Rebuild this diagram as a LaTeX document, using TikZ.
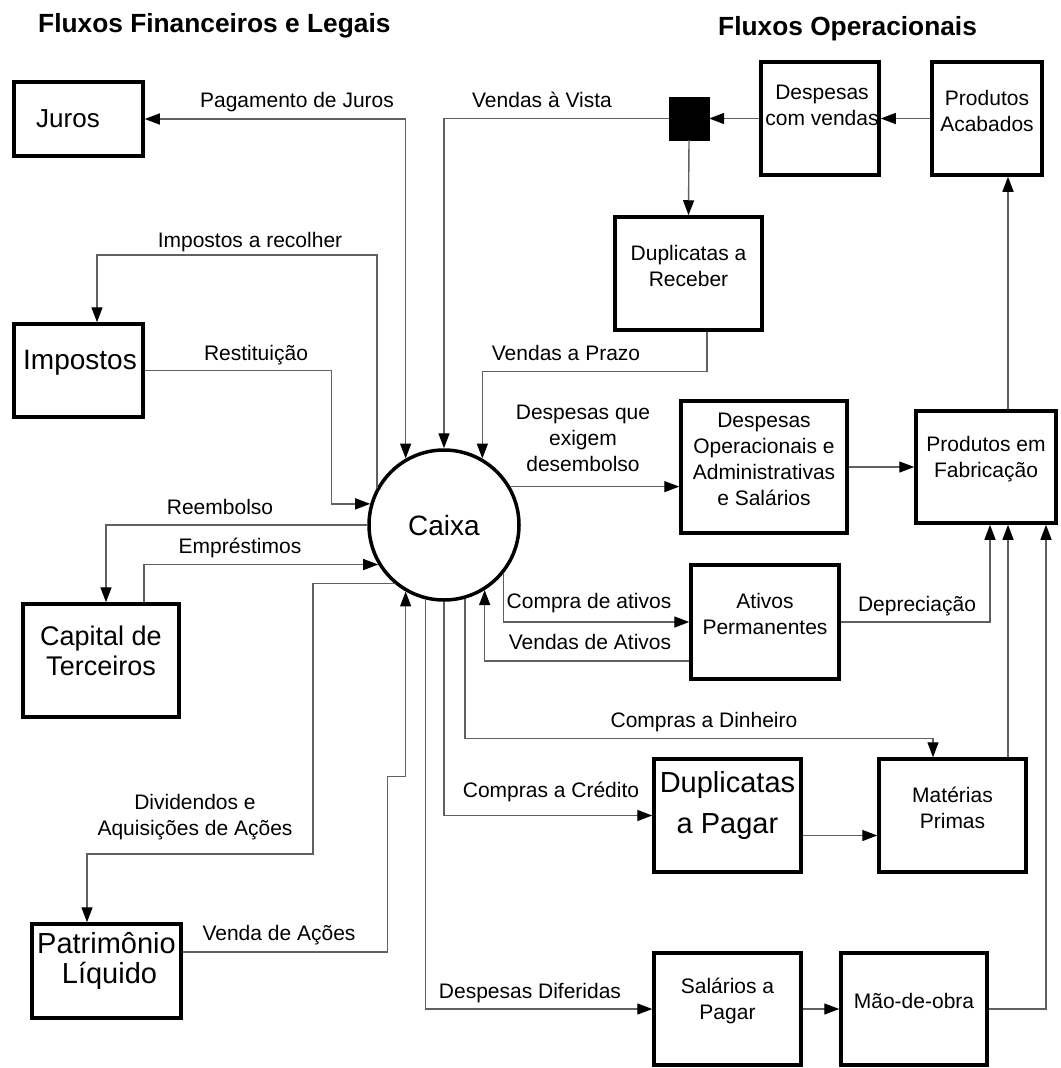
\documentclass[tikz,border=0pt]{standalone}
\usepackage{fontspec}
\setmainfont{Liberation Sans}
\usetikzlibrary{arrows.meta,calc,fit}
\definecolor{linegray}{RGB}{96,96,96}
\begin{document}
\begin{tikzpicture}[x=1pt,y=-1pt,
  tip/.tip={Triangle[length=15pt,width=11pt,color=black]},
  conn/.style={draw=linegray, line width=1.4pt},
  arr/.style={conn,-tip},
  arrb/.style={conn,tip-tip},
  box/.style={draw=black, line width=3.5pt, inner sep=0pt, align=center, font=\fontsize{21}{26}\selectfont},
  lbl/.style={font=\fontsize{21}{26}\selectfont, inner sep=0pt, anchor=base},
  mlbl/.style={font=\fontsize{21}{26}\selectfont, inner sep=0pt, align=center},
  head/.style={font=\fontsize{26.3}{30}\selectfont\bfseries, inner sep=0pt, anchor=base west}
]
\useasboundingbox (0,0) rectangle (1060,1068);

% headings
\node[head] (h1) at (38,32) {Fluxos Financeiros e Legais};
\node[head] (h2) at (718,35) {Fluxos Operacionais};

% boxes
\node[box, fit={(14,82) (143,156)}] (juros) {};
\node[font=\fontsize{26}{30}\selectfont, inner sep=0pt, anchor=base] (jurost) at (68,127) {Juros};
\node[box, fit={(14,324) (143,417)}] (impostos) {};
\node[font=\fontsize{28}{30}\selectfont, inner sep=0pt, anchor=base] (impostost) at (80,369) {Impostos};
\node[box, fit={(23,604) (179,717)}, font=\fontsize{27}{30}\selectfont] (capital) {Capital de\\Terceiros};
\node[box, fit={(32,924) (181,1018)}, font=\fontsize{29}{30}\selectfont] (patrim) {Patrimônio\\\hspace*{6pt}Líquido};
\node[draw=black, circle, line width=3.5pt, minimum size=150pt, inner sep=0pt, font=\fontsize{28}{32}\selectfont] (caixa) at (444,525) {Caixa};
\node[fill=black, draw=black, inner sep=0pt, fit={(669,97) (709,140)}] (sq) {};
\node[box, fit={(761,62) (879,175)}] (dcv) {};
\node[mlbl] (dcvt) at (822,105.5) {Despesas\\com vendas};
\node[box, fit={(932,62) (1042,175)}] (pacab) {Produtos\\Acabados};
\node[box, fit={(615,217) (762,330)}] (drec) {Duplicatas a\\Receber};
\node[box, fit={(681,401) (847,533)}] (dop) {Despesas\\Operacionais e\\Administrativas\\e Salários};
\node[box, fit={(916,411) (1056,523)}] (pfab) {Produtos em\\Fabricação};
\node[box, fit={(691,565) (839,679)}] (ativos) {Ativos\\Permanentes};
\node[box, fit={(654,759) (801,872)}, font=\fontsize{29}{41}\selectfont] (dpag) {Duplicatas\\a Pagar};
\node[box, fit={(879,759) (1026,872)}] (mat) {Matérias\\Primas};
\node[box, fit={(654,953) (801,1065)}] (sal) {Salários a\\Pagar};
\node[box, fit={(841,953) (987,1065)}] (mao) {Mão-de-obra};

% connectors - left side
\draw[arrb] (juros.east) -| (caixa.120.5);
\node[lbl] (l1) at (297,107) {Pagamento de Juros};

\draw[arr] (caixa.151.6) |- ($(impostos.north west)+(84.75,-67.25)$) -- ($(impostos.north west)+(84.75,0)$);
\node[lbl] (l2) at (250,247) {Impostos a recolher};

\draw[arr] (impostos.east) -| ($(caixa.164.5)+(-39,0)$) -- (caixa.164.5);
\node[lbl] (l3) at (256,360) {Restituição};

\draw[arr] (caixa.west) -| ($(capital.north west)+(84.75,0)$);
\node[lbl] (l4) at (220,514) {Reembolso};

\draw[arr] ($(capital.north west)+(122.75,0)$) |- (caixa.211.3);
\node[lbl] (l5) at (240,553) {Empréstimos};

\draw[arr] (caixa.230.7) -| ($(patrim.north west)+(282.75,-68.25)$) -| ($(patrim.north west)+(56.75,0)$);
\node[mlbl] (l6) at (195,817.5) {Dividendos e\\Aquisições de Ações};

\draw[arr] ($(patrim.east)+(0,-19)$) -| ($(caixa.240.4)+(-18,185)$) -| (caixa.240.4);
\node[lbl] (l7) at (279,940) {Venda de Ações};

% top / right side
\draw[arr] (sq.west) -| (caixa.north);
\node[lbl] (l8) at (542,107) {Vendas à Vista};

\draw[arr] (dcv.west) -- (sq.east);
\draw[arr] (pacab.west) -- (dcv.east);
\draw[arr] (sq.south) -- (drec.north);

\draw[arr] ($(drec.south west)+(93.75,0)$) |- ($(caixa.60.4)+(0,-87)$) -- (caixa.60.4);
\node[lbl] (l9) at (566,360) {Vendas a Prazo};

\draw[arr] (caixa.30.4) -- (caixa.30.4 -| dop.west);
\node[mlbl] (l10) at (583,438.5) {Despesas que\\exigem\\desembolso};

\draw[arr] (dop.east) -- (pfab.west);
\draw[arr] ($(pfab.north west)+(93.75,0)$) -- ($(pacab.south west)+(77.75,0)$);

\draw[arr] (caixa.-39.4) |- (ativos.west);
\node[lbl] (l11) at (589,608) {Compra de ativos};

\draw[arr] ($(ativos.west)+(0,39)$) -| (caixa.-58.7);
\node[lbl] (l12) at (590,649) {Vendas de Ativos};

\draw[arr] (ativos.east) -| ($(pfab.south west)+(75.75,0)$);
\node[lbl] (l13) at (917,611) {Depreciação};

\draw[arr] (caixa.-74.5) |- ($(mat.north west)+(55.75,-19)$) -- ($(mat.north west)+(55.75,0)$);
\node[lbl] (l14) at (704,727) {Compras a Dinheiro};

\draw[arr] (caixa.south) |- (dpag.west);
\node[lbl] (l15) at (551,797) {Compras a Crédito};

\draw[arr] ($(dpag.east)+(0,20)$) -- ($(mat.west)+(0,20)$);
\draw[arr] ($(mat.north west)+(130.75,0)$) -- ($(pfab.south west)+(93.75,0)$);

\draw[arr] (caixa.256.1) |- (sal.west);
\node[lbl] (l16) at (530,998) {Despesas Diferidas};

\draw[arr] (sal.east) -- (mao.west);
\draw[arr] (mao.east) -| ($(pfab.south west)+(131.75,0)$);
\end{tikzpicture}
\end{document}
